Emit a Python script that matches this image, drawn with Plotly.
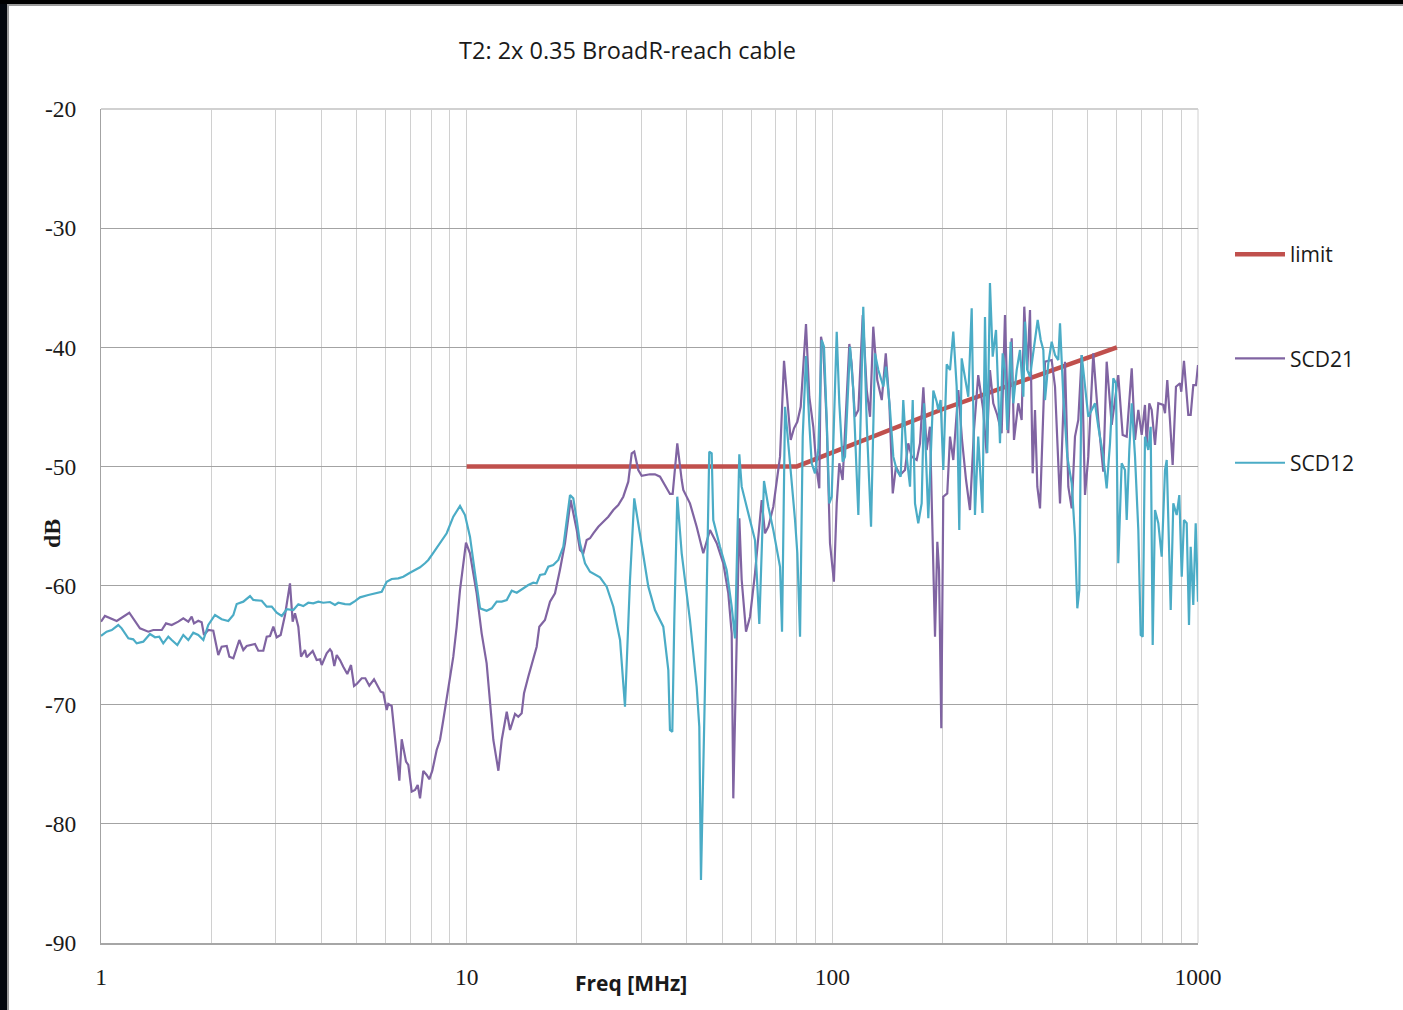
import plotly.graph_objects as go

# ---------------- data (frequency in MHz, value in dB) ----------------
limit_pts = [(10, -50.0), (80, -50.0), (200, -45.2), (600, -40.0)]

scd21_pts = [
    (1.0, -63.03), (1.025, -62.55), (1.104, -62.97), (1.195, -62.28), (1.278, -63.59),
    (1.347, -63.87), (1.390, -63.73), (1.466, -63.73), (1.506, -63.17), (1.561, -63.31),
    (1.627, -63.03), (1.679, -62.75), (1.733, -63.03), (1.770, -62.61), (1.796, -63.17),
    (1.845, -62.95), (1.885, -63.08), (1.913, -64.15), (1.965, -63.73), (2.028, -63.79),
    (2.093, -65.83), (2.138, -65.13), (2.207, -65.07), (2.244, -65.97), (2.301, -66.11),
    (2.389, -64.57), (2.450, -65.41), (2.503, -65.07), (2.637, -64.90), (2.693, -65.47),
    (2.779, -65.47), (2.839, -64.29), (2.899, -64.23), (2.960, -63.45), (3.024, -64.34),
    (3.100, -64.15), (3.186, -62.47), (3.287, -59.81), (3.343, -63.03), (3.392, -62.33),
    (3.464, -63.45), (3.524, -65.97), (3.613, -65.41), (3.652, -66.02), (3.793, -65.49),
    (3.889, -66.25), (3.971, -66.19), (4.014, -66.67), (4.142, -65.69), (4.229, -65.35),
    (4.275, -65.55), (4.345, -66.75), (4.412, -65.83), (4.504, -66.25), (4.598, -66.81),
    (4.716, -67.42), (4.828, -66.67), (4.920, -68.43), (5.004, -68.26), (5.164, -67.78),
    (5.283, -67.78), (5.417, -68.40), (5.580, -67.87), (5.697, -68.43), (5.820, -68.91),
    (5.916, -68.99), (6.044, -70.44), (6.105, -69.94), (6.237, -70.11), (6.545, -76.38),
    (6.643, -72.90), (6.826, -74.78), (6.925, -75.06), (7.075, -77.30), (7.224, -77.16),
    (7.347, -76.74), (7.455, -77.86), (7.610, -75.56), (7.775, -75.90), (7.903, -76.26),
    (8.054, -75.54), (8.279, -73.80), (8.454, -72.96), (8.631, -71.28), (8.908, -68.49),
    (9.193, -65.97), (9.391, -63.45), (9.590, -60.37), (9.958, -56.40), (10.21, -57.29),
    (10.65, -60.65), (10.99, -64.01), (11.34, -66.53), (11.83, -72.96), (12.21, -75.54),
    (12.47, -72.96), (12.87, -70.59), (13.14, -72.12), (13.56, -70.78), (13.84, -71.01),
    (14.14, -70.72), (14.35, -69.04), (14.74, -67.65), (15.54, -65.13), (15.80, -63.45),
    (16.37, -62.89), (16.90, -61.35), (17.44, -60.65), (17.99, -58.69), (18.57, -56.45),
    (19.25, -52.82), (20.00, -55.34), (20.41, -57.02), (20.84, -57.29), (21.29, -56.18),
    (21.74, -56.03), (22.20, -55.61), (22.91, -55.06), (23.64, -54.64), (24.40, -54.22),
    (25.18, -53.66), (25.98, -53.24), (26.81, -52.54), (27.67, -51.28), (28.27, -48.90),
    (28.73, -48.76), (29.47, -50.30), (30.10, -50.78), (31.71, -50.66), (32.73, -50.66),
    (33.79, -50.86), (34.86, -51.56), (35.97, -52.31), (36.59, -52.31), (37.67, -48.06),
    (38.73, -51.14), (39.12, -51.98), (40.80, -53.10), (42.56, -55.06), (44.37, -57.29),
    (46.28, -55.34), (48.28, -56.45), (50.33, -58.13), (51.94, -60.65), (53.06, -64.01),
    (53.60, -77.86), (54.76, -64.29), (55.67, -54.35), (56.51, -59.53), (58.07, -63.87),
    (59.55, -62.61), (61.45, -58.97), (64.10, -52.82), (65.44, -55.61), (66.84, -55.06),
    (68.96, -53.38), (71.94, -49.18), (73.77, -41.13), (76.95, -47.78), (78.56, -46.80),
    (80.22, -46.25), (81.95, -44.99), (84.72, -38.05), (86.50, -44.15), (88.70, -46.67),
    (90.62, -50.30), (92.12, -51.84), (93.11, -39.11), (94.47, -40.09), (96.52, -46.38),
    (98.54, -56.45), (101.0, -59.68), (102.8, -53.10), (104.5, -49.74), (106.7, -51.14),
    (109.0, -45.52), (111.3, -39.72), (112.9, -41.35), (115.3, -45.83), (117.8, -45.26),
    (121.1, -37.30), (124.2, -43.59), (126.8, -45.83), (129.4, -38.27), (132.7, -42.75),
    (136.5, -44.43), (140.0, -40.51), (143.2, -44.70), (146.3, -52.26), (149.3, -50.02),
    (153.1, -50.72), (158.0, -50.30), (161.3, -48.06), (164.8, -49.18), (170.1, -49.46),
    (173.7, -48.06), (177.4, -43.36), (181.1, -48.62), (184.9, -46.67), (190.9, -64.29),
    (193.7, -56.32), (195.8, -58.69), (198.6, -71.98), (201.1, -52.54), (206.2, -52.26),
    (209.8, -47.50), (214.2, -49.46), (221.1, -43.59), (226.3, -47.78), (232.1, -51.14),
    (237.9, -53.66), (244.0, -46.94), (250.6, -42.33), (258.6, -45.26), (264.2, -48.90),
    (269.8, -41.91), (275.5, -44.70), (282.5, -45.68), (290.4, -47.22), (296.6, -37.29),
    (302.8, -47.22), (309.4, -39.25), (313.9, -47.78), (322.5, -44.70), (329.4, -46.10),
    (334.9, -36.59), (341.3, -41.91), (347.2, -36.87), (353.1, -50.58), (358.3, -45.26),
    (363.6, -51.70), (369.8, -53.52), (377.6, -45.26), (381.6, -41.21), (398.0, -41.07),
    (406.4, -43.31), (419.4, -53.10), (432.8, -41.21), (441.9, -51.70), (451.5, -53.52),
    (460.9, -47.50), (470.6, -46.10), (480.8, -40.65), (490.9, -52.40), (501.2, -49.18),
    (517.2, -40.51), (533.8, -46.10), (550.8, -50.44), (562.7, -41.21), (580.8, -46.52),
    (605.3, -42.33), (622.3, -47.36), (638.3, -47.50), (658.8, -41.76), (672.6, -47.78),
    (686.7, -45.26), (701.5, -47.36), (716.1, -44.84), (724.0, -48.20), (735.9, -44.70),
    (747.0, -45.26), (762.8, -48.20), (778.8, -44.70), (803.6, -44.84), (812.4, -45.54),
    (824.1, -42.75), (838.1, -46.10), (852.5, -49.88), (870.5, -43.31), (892.7, -43.02),
    (900.1, -43.73), (915.5, -41.13), (940.7, -45.68), (955.0, -45.68), (970.8, -43.17),
    (987.4, -43.17), (1000.0, -41.49),
]

scd12_pts = [
    (1.0, -64.23), (1.036, -63.87), (1.070, -63.73), (1.115, -63.31), (1.139, -63.59),
    (1.188, -64.43), (1.225, -64.51), (1.252, -64.85), (1.305, -64.71), (1.361, -64.07),
    (1.405, -64.34), (1.443, -64.29), (1.480, -64.85), (1.528, -64.29), (1.561, -64.57),
    (1.617, -64.99), (1.679, -64.15), (1.733, -64.57), (1.788, -63.96), (1.845, -64.15),
    (1.905, -64.57), (1.965, -63.31), (2.050, -62.47), (2.138, -62.83), (2.229, -62.97),
    (2.301, -62.47), (2.350, -61.55), (2.450, -61.35), (2.556, -60.88), (2.609, -61.21),
    (2.751, -61.27), (2.839, -61.77), (2.930, -61.77), (3.024, -62.28), (3.121, -62.55),
    (3.221, -61.99), (3.357, -62.05), (3.464, -61.57), (3.574, -61.72), (3.689, -61.44),
    (3.807, -61.49), (3.929, -61.35), (4.054, -61.44), (4.229, -61.38), (4.364, -61.63),
    (4.457, -61.44), (4.649, -61.55), (4.797, -61.57), (4.950, -61.30), (5.109, -60.99),
    (5.383, -60.79), (5.675, -60.65), (5.857, -60.52), (6.044, -59.68), (6.237, -59.45),
    (6.501, -59.39), (6.710, -59.26), (6.998, -58.92), (7.224, -58.69), (7.455, -58.47),
    (7.691, -58.13), (7.854, -57.85), (8.140, -57.18), (8.454, -56.45), (8.818, -55.61),
    (9.193, -54.22), (9.590, -53.32), (9.895, -54.08), (10.21, -55.90), (10.54, -58.97),
    (10.88, -61.91), (11.34, -62.11), (11.71, -61.91), (12.08, -61.35), (12.47, -61.35),
    (12.87, -61.21), (13.28, -60.43), (13.71, -60.60), (14.14, -60.31), (14.74, -59.95),
    (15.21, -59.76), (15.54, -59.81), (15.87, -59.11), (16.37, -59.03), (16.72, -58.42),
    (17.25, -58.27), (17.81, -57.85), (18.38, -56.74), (19.17, -52.40), (19.57, -52.68),
    (20.00, -54.50), (20.41, -56.45), (21.07, -58.13), (21.74, -58.84), (23.15, -59.31),
    (24.15, -60.09), (25.18, -61.77), (26.27, -64.57), (27.10, -70.17), (27.97, -59.53),
    (28.73, -52.68), (29.47, -54.77), (30.41, -57.29), (31.39, -60.09), (32.73, -62.05),
    (34.49, -63.45), (35.60, -67.09), (35.97, -72.12), (36.51, -72.27), (36.97, -62.89),
    (37.67, -52.54), (38.73, -57.29), (40.80, -62.89), (42.56, -68.49), (43.27, -71.85),
    (43.73, -84.71), (44.85, -68.49), (46.07, -48.76), (46.78, -48.90), (47.25, -54.50),
    (49.29, -56.74), (51.40, -58.69), (53.06, -61.77), (54.19, -64.43), (55.67, -48.98),
    (56.51, -51.70), (58.92, -53.94), (61.45, -56.18), (63.14, -63.23), (64.10, -57.29),
    (65.03, -51.22), (66.84, -53.38), (68.96, -55.34), (71.94, -58.42), (72.85, -63.87),
    (74.24, -44.99), (75.80, -48.06), (77.44, -51.70), (79.07, -54.50), (80.22, -57.29),
    (81.60, -64.29), (82.99, -47.50), (84.72, -40.73), (86.50, -46.38), (87.82, -49.74),
    (89.66, -50.58), (91.54, -48.62), (93.52, -39.39), (94.89, -39.95), (96.52, -46.10),
    (98.10, -53.10), (99.59, -52.54), (102.8, -38.69), (104.5, -44.70), (106.7, -49.60),
    (108.3, -49.18), (111.8, -39.95), (114.1, -43.59), (117.8, -54.08), (121.5, -36.59),
    (124.2, -46.38), (127.6, -55.06), (130.8, -40.51), (133.6, -41.91), (137.9, -43.31),
    (140.2, -41.63), (143.8, -45.26), (146.8, -49.18), (150.0, -50.30), (153.8, -50.86),
    (156.3, -44.43), (159.7, -49.18), (163.1, -51.70), (165.9, -44.43), (168.3, -53.10),
    (171.8, -54.77), (175.5, -53.10), (178.1, -44.70), (183.0, -54.35), (188.9, -43.64),
    (192.9, -44.57), (194.9, -45.26), (197.8, -44.43), (201.1, -50.30), (205.5, -41.43),
    (209.8, -41.91), (214.2, -38.69), (218.8, -43.31), (222.4, -55.34), (225.8, -40.93),
    (230.6, -42.47), (235.4, -44.15), (240.5, -36.73), (245.5, -54.08), (250.6, -47.50),
    (257.4, -53.91), (261.5, -37.46), (265.3, -48.87), (269.8, -34.60), (274.5, -40.79),
    (280.3, -38.55), (284.4, -44.70), (287.4, -48.06), (292.3, -40.51), (296.6, -41.91),
    (300.9, -46.94), (307.4, -39.53), (312.5, -44.70), (319.3, -41.91), (326.0, -40.23),
    (332.9, -44.15), (336.4, -37.85), (341.3, -41.91), (347.2, -42.47), (354.4, -40.51),
    (364.4, -37.71), (371.4, -39.39), (377.6, -40.23), (381.6, -44.43), (389.6, -41.35),
    (398.0, -39.53), (406.4, -40.65), (414.9, -41.07), (419.4, -37.99), (428.2, -44.15),
    (439.1, -49.18), (451.5, -51.42), (460.9, -55.90), (467.7, -61.91), (473.6, -60.37),
    (480.8, -40.65), (490.9, -43.31), (501.2, -45.83), (512.0, -45.26), (522.8, -44.70),
    (533.8, -46.67), (550.8, -49.18), (562.7, -51.84), (574.5, -48.06), (586.7, -42.61),
    (596.6, -43.02), (605.3, -58.13), (618.4, -49.74), (631.4, -50.30), (638.3, -54.50),
    (648.8, -48.62), (658.8, -44.70), (672.6, -49.18), (686.7, -55.34), (697.2, -64.15),
    (706.0, -64.29), (716.1, -47.50), (731.3, -48.62), (742.3, -46.67), (751.8, -64.99),
    (762.8, -53.66), (778.8, -54.77), (795.7, -57.58), (812.4, -50.30), (821.2, -49.46),
    (842.1, -62.05), (856.0, -53.10), (874.5, -54.08), (889.0, -52.40), (902.6, -59.26),
    (915.5, -54.50), (931.3, -54.77), (944.9, -63.31), (955.0, -56.74), (970.8, -61.63),
    (985.6, -54.77), (1000.0, -61.35),
]

x_tick_vals = [1, 2, 3, 4, 5, 6, 7, 8, 9,
               10, 20, 30, 40, 50, 60, 70, 80, 90,
               100, 200, 300, 400, 500, 600, 700, 800, 900, 1000]
x_tick_labels = {1: "1", 10: "10", 100: "100", 1000: "1000"}
y_tick_vals = [-90, -80, -70, -60, -50, -40, -30, -20]
y_tick_text = ["-90", "-80", "-70", "-60", "-50", "-40", "-30", "-20"]

title_text = "T2: 2x 0.35 BroadR-reach cable"
x_title = "Freq [MHz]"
y_title = "dB"

# ---------------- figure ----------------
W, H = 1403, 1010
L, R, T, B = 101, 1198, 109, 943   # plot area in px


def px_x(p):
    return (p - L) / (R - L)


def px_y(p):
    return (B - p) / (B - T)


fig = go.Figure()

series = [
    ("limit", limit_pts, "#C0504D", 4.5),
    ("SCD21", scd21_pts, "#8064A2", 2.2),
    ("SCD12", scd12_pts, "#4BACC6", 2.2),
]
for i, (name, pts, color, width) in enumerate(series):
    fig.add_trace(go.Scatter(
        x=[p[0] for p in pts],
        y=[p[1] for p in pts],
        mode="lines",
        name=name,
        legendgroup=f"g{i}",
        line=dict(color=color, width=width),
    ))

tick_font = dict(family="Liberation Serif", size=23.5, color="#1a1a1a")
VGRID = "#d0d0d0"
HGRID = "#a3a3a3"

fig.update_layout(
    width=W, height=H,
    margin=dict(l=L, r=W - R, t=T, b=H - B, pad=0),
    paper_bgcolor="white",
    plot_bgcolor="white",
    showlegend=True,
    legend=dict(
        x=px_x(1230), y=px_y(234), xanchor="left", yanchor="top",
        font=dict(family="Open Sans", size=21, color="#1a1a1a"),
        traceorder="grouped", tracegroupgap=74, itemwidth=50,
        bgcolor="rgba(0,0,0,0)", borderwidth=0,
    ),
    xaxis=dict(
        type="log", range=[0, 3],
        tickvals=x_tick_vals,
        ticktext=[x_tick_labels.get(v, "") for v in x_tick_vals],
        ticks="", showgrid=True, gridcolor=VGRID, gridwidth=1,
        showline=True, linecolor="#a6a6a6", linewidth=2,
        zeroline=False, tickfont=tick_font, ticklabelstandoff=12,
    ),
    yaxis=dict(
        range=[-90, -20], tickvals=y_tick_vals, ticktext=y_tick_text,
        ticks="", showgrid=True, gridcolor=HGRID, gridwidth=1,
        showline=True, linecolor=HGRID, linewidth=1,
        zeroline=False, tickfont=tick_font, ticklabelstandoff=19,
    ),
    annotations=[
        dict(text=title_text, x=px_x(627), y=px_y(50), xref="paper", yref="paper",
             showarrow=False, xanchor="center", yanchor="middle",
             font=dict(family="Open Sans", size=23.5, color="#1a1a1a")),
        dict(text="<b>" + x_title + "</b>", x=px_x(631), y=px_y(983),
             xref="paper", yref="paper", showarrow=False,
             xanchor="center", yanchor="middle",
             font=dict(family="Open Sans", size=21, color="#1a1a1a")),
        dict(text="<b>" + y_title + "</b>", x=px_x(52), y=px_y(534),
             xref="paper", yref="paper", showarrow=False, textangle=-90,
             xanchor="center", yanchor="middle",
             font=dict(family="Liberation Serif", size=24, color="#1a1a1a")),
    ],
    shapes=[
        # plot-area edge gridlines (top at -20, right at 1000)
        dict(type="line", xref="paper", yref="paper", layer="below",
             x0=0, x1=1, y0=1, y1=1, line=dict(color=HGRID, width=1)),
        dict(type="line", xref="paper", yref="paper", layer="below",
             x0=1, x1=1, y0=0, y1=1, line=dict(color=VGRID, width=1)),
        # dark frame of the screenshot
        dict(type="rect", xref="paper", yref="paper", layer="above",
             x0=px_x(0), x1=px_x(7), y0=px_y(H), y1=px_y(0),
             fillcolor="#03070d", line=dict(width=0)),
        dict(type="rect", xref="paper", yref="paper", layer="above",
             x0=px_x(7), x1=px_x(9), y0=px_y(H), y1=px_y(4),
             fillcolor="#9a9a9a", line=dict(width=0)),
        dict(type="rect", xref="paper", yref="paper", layer="above",
             x0=px_x(0), x1=px_x(W), y0=px_y(4), y1=px_y(0),
             fillcolor="#000000", line=dict(width=0)),
        dict(type="rect", xref="paper", yref="paper", layer="above",
             x0=px_x(7), x1=px_x(W), y0=px_y(6), y1=px_y(4),
             fillcolor="#9a9a9a", line=dict(width=0)),
    ],
)

fig.write_html("out.html", config={"displayModeBar": False},
               post_script="document.body.style.margin='0';")
